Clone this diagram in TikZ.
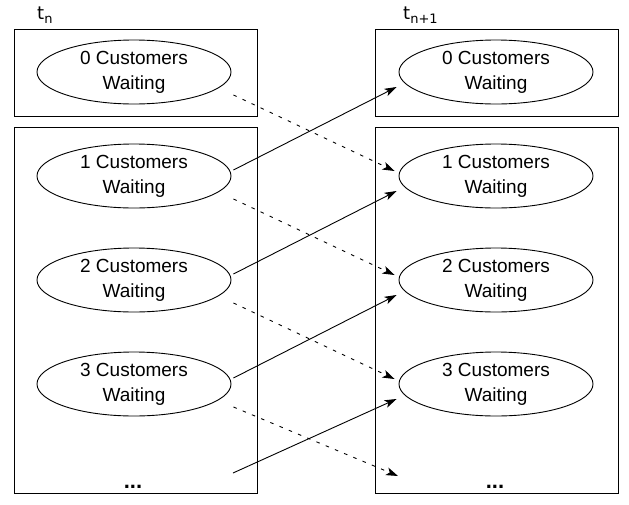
\documentclass[tikz,border=0pt]{standalone}
\usepackage{fontspec}
\newfontfamily\arialfont{Liberation Sans}
\newfontfamily\dejafont{DejaVu Sans}
\usepackage{tikz}
\usetikzlibrary{arrows.meta,shapes.geometric}
\newcommand{\tsub}[1]{\raisebox{-4pt}{\fontsize{13}{13}\selectfont #1}}

\begin{document}
\begin{tikzpicture}[
    x=1pt, y=-1pt,
    group/.style={rectangle, draw, line width=0.9pt, minimum width=243pt, inner sep=0pt},
    state/.style={ellipse, draw, line width=0.9pt, minimum width=194pt, minimum height=64pt, inner sep=0pt, align=center, font=\arialfont\fontsize{19}{25}\selectfont},
    timelbl/.style={inner sep=0pt, anchor=base west, font=\dejafont\fontsize{18}{20}\selectfont},
    more/.style={anchor=base, inner sep=0pt, font=\arialfont\bfseries\fontsize{22}{25}\selectfont},
    trans/.style={-{Stealth[length=12pt, width=8pt, inset=3pt]}, line width=0.9pt},
    stay/.style={trans, dash pattern=on 3.5pt off 6.5pt}
]
\useasboundingbox (0,0) rectangle (629,504);

% time steps
\node[timelbl] (tn) at (37,19) {t\tsub{n}};
\node[timelbl] (tn1) at (403,19) {t\tsub{n+1}};

% boxes
\node[group, minimum height=87pt] (emptyL) at (135.5,72.5) {};
\node[group, minimum height=366pt] (busyL) at (135.5,310) {};
\node[group, minimum height=87pt] (emptyR) at (496.5,72.5) {};
\node[group, minimum height=366pt] (busyR) at (496.5,310) {};

% states at t_n
\node[state] (s0L) at (134,72) {0 Customers\\Waiting};
\node[state] (s1L) at (134,176) {1 Customers\\Waiting};
\node[state] (s2L) at (134,280) {2 Customers\\Waiting};
\node[state] (s3L) at (134,384) {3 Customers\\Waiting};
\node[more] (dotsL) at (133,488) {...};

% states at t_{n+1}
\node[state] (s0R) at (496,72) {0 Customers\\Waiting};
\node[state] (s1R) at (496,176) {1 Customers\\Waiting};
\node[state] (s2R) at (496,280) {2 Customers\\Waiting};
\node[state] (s3R) at (496,384) {3 Customers\\Waiting};
\node[more] (dotsR) at (495,488) {...};

\coordinate (moreL) at (233,473);
\coordinate (moreR) at (398,476);

% one served
\draw[trans] ([xshift=2pt,yshift=6pt]s1L.east) -- ([xshift=-2pt,yshift=-15pt]s0R.west);
\draw[trans] ([xshift=2pt,yshift=6pt]s2L.east) -- ([xshift=-2pt,yshift=-15pt]s1R.west);
\draw[trans] ([xshift=2pt,yshift=6pt]s3L.east) -- ([xshift=-2pt,yshift=-15pt]s2R.west);
\draw[trans] (moreL) -- ([xshift=-2pt,yshift=-15pt]s3R.west);

% one arrives
\draw[stay] ([xshift=2pt,yshift=-23pt]s0L.east) -- ([xshift=-4pt,yshift=5pt]s1R.west);
\draw[stay] ([xshift=2pt,yshift=-23pt]s1L.east) -- ([xshift=-4pt,yshift=5pt]s2R.west);
\draw[stay] ([xshift=2pt,yshift=-23pt]s2L.east) -- ([xshift=-4pt,yshift=5pt]s3R.west);
\draw[stay] ([xshift=2pt,yshift=-23pt]s3L.east) -- (moreR);
\end{tikzpicture}
\end{document}
